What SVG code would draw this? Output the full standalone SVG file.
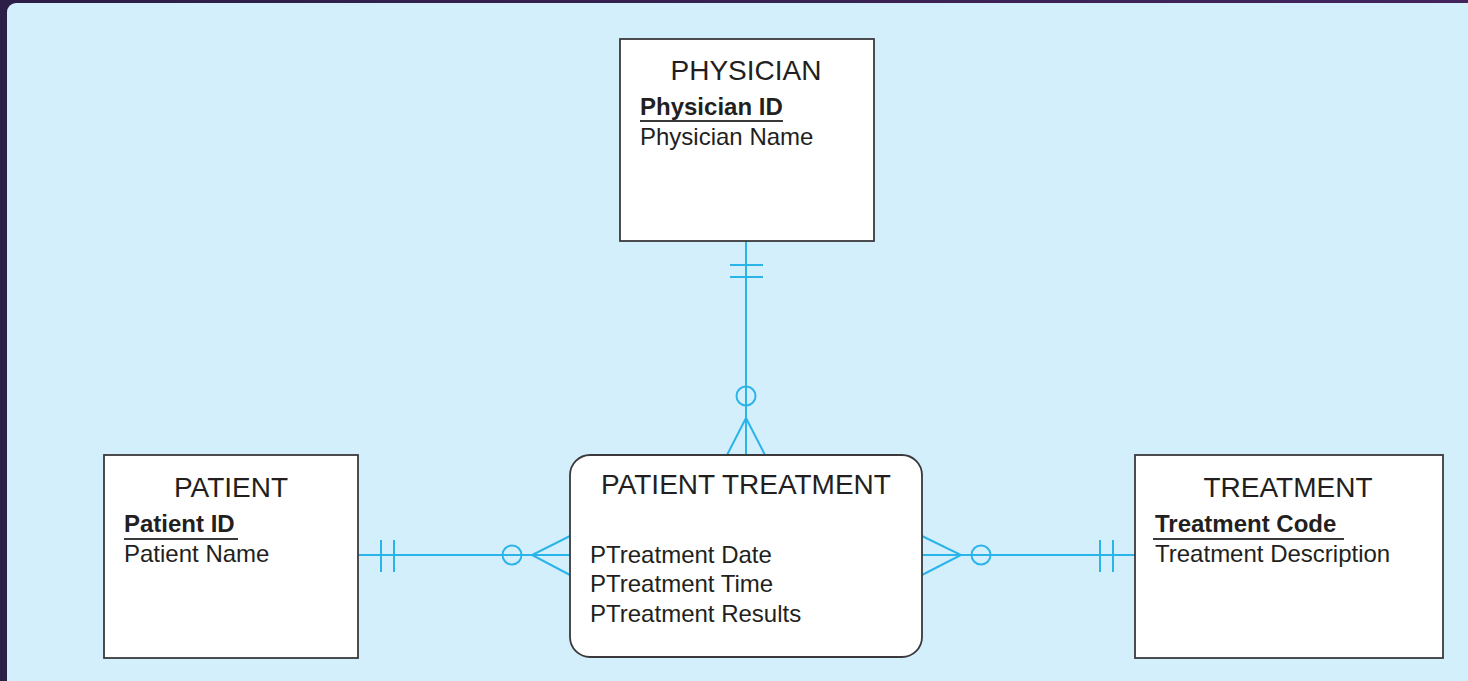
<svg xmlns="http://www.w3.org/2000/svg" width="1468" height="681" viewBox="0 0 1468 681">
  <defs>
    <linearGradient id="frame" x1="0" y1="0" x2="1" y2="0">
      <stop offset="0" stop-color="#2b1e47"/>
      <stop offset="1" stop-color="#43245d"/>
    </linearGradient>
    <style>
      .entity { fill: #ffffff; stroke: #3a3a3c; stroke-width: 1.8; }
      .title { font-family: "Liberation Sans", Arial, sans-serif; font-size: 28px; fill: #231f20; text-anchor: middle; }
      .key { font-family: "Liberation Sans", Arial, sans-serif; font-size: 24px; font-weight: bold; fill: #231f20; }
      .attr { font-family: "Liberation Sans", Arial, sans-serif; font-size: 24px; fill: #231f20; }
      .uline { stroke: #3a3a3c; stroke-width: 1.8; }
      .rel { fill: none; stroke: #2bb4ea; stroke-width: 2; }
    </style>
  </defs>

  <!-- frame and panel -->
  <rect x="0" y="0" width="1468" height="681" fill="url(#frame)"/>
  <rect x="7" y="3" width="1475" height="690" rx="9" fill="#d4effc"/>

  <!-- relationships -->
  <g id="connectors" class="rel">
    <!-- PHYSICIAN to PATIENT TREATMENT -->
    <line x1="746" y1="241" x2="746" y2="455"/>
    <line x1="730" y1="265" x2="763" y2="265"/>
    <line x1="730" y1="277" x2="763" y2="277"/>
    <circle cx="746" cy="396" r="9.5"/>
    <polyline points="727,455 746,418 765,455"/>
    <!-- PATIENT to PATIENT TREATMENT -->
    <line x1="358" y1="555" x2="570" y2="555"/>
    <line x1="381" y1="540" x2="381" y2="572"/>
    <line x1="394" y1="540" x2="394" y2="572"/>
    <circle cx="512" cy="555" r="9.5"/>
    <polyline points="570,536 532,555 570,575"/>
    <!-- TREATMENT to PATIENT TREATMENT -->
    <line x1="922" y1="555" x2="1135" y2="555"/>
    <line x1="1100" y1="540" x2="1100" y2="572"/>
    <line x1="1113" y1="540" x2="1113" y2="572"/>
    <circle cx="981" cy="555" r="9.5"/>
    <polyline points="922,536 961,555 922,575"/>
  </g>

  <g id="physician">
    <rect class="entity" x="620" y="39" width="254" height="202"/>
    <text class="title" x="746" y="80">PHYSICIAN</text>
    <text class="key" x="640" y="115">Physician ID</text>
    <line class="uline" x1="640" y1="121" x2="783" y2="121"/>
    <text class="attr" x="640" y="145">Physician Name</text>
  </g>

  <g id="patient">
    <rect class="entity" x="104" y="455" width="254" height="203"/>
    <text class="title" x="231" y="497">PATIENT</text>
    <text class="key" x="124" y="532">Patient ID</text>
    <line class="uline" x1="124" y1="539" x2="238" y2="539"/>
    <text class="attr" x="124" y="562">Patient Name</text>
  </g>

  <g id="treatment">
    <rect class="entity" x="1135" y="455" width="308" height="203"/>
    <text class="title" x="1288" y="497">TREATMENT</text>
    <text class="key" x="1155" y="532">Treatment Code</text>
    <line class="uline" x1="1153" y1="539" x2="1344" y2="539"/>
    <text class="attr" x="1155" y="562">Treatment Description</text>
  </g>

  <g id="patient-treatment">
    <rect class="entity" x="570" y="455" width="352" height="202" rx="20"/>
    <text class="title" x="746" y="494">PATIENT TREATMENT</text>
    <text class="attr" x="590" y="563">PTreatment Date</text>
    <text class="attr" x="590" y="592">PTreatment Time</text>
    <text class="attr" x="590" y="622">PTreatment Results</text>
  </g>
</svg>
